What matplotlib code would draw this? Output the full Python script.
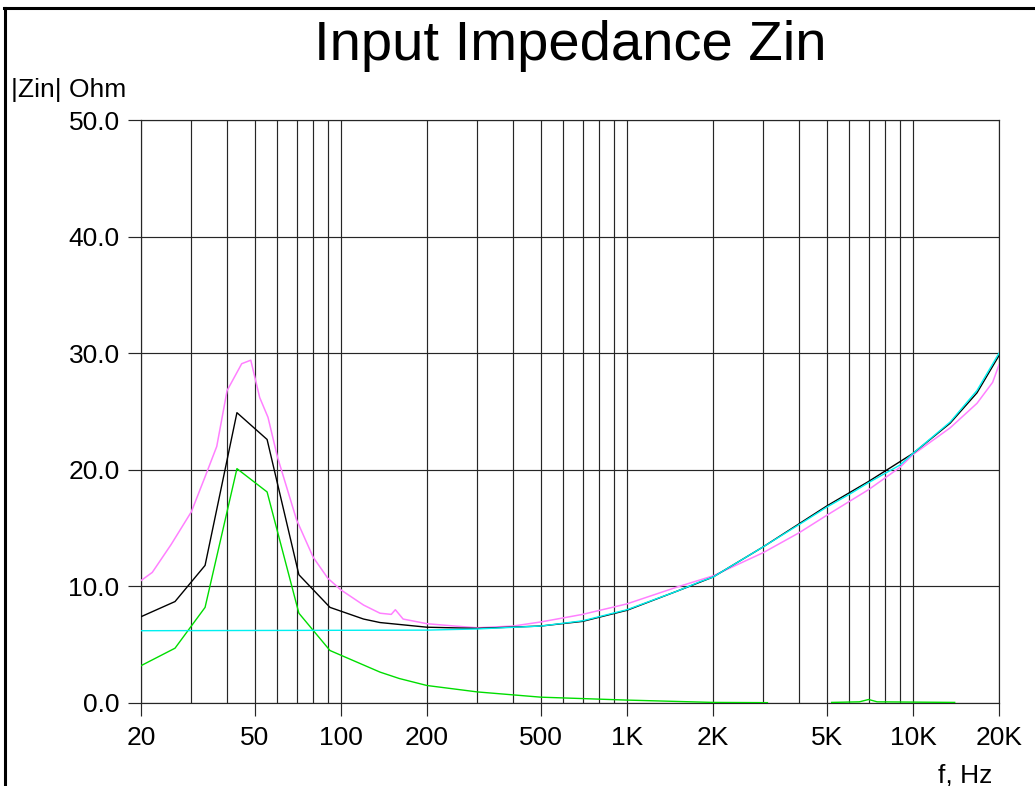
import matplotlib
matplotlib.use("Agg")
import matplotlib.pyplot as plt
import numpy as np
from matplotlib.ticker import FixedLocator, NullFormatter, NullLocator
from matplotlib.lines import Line2D

plt.rcParams['font.family'] = ['Liberation Sans', 'DejaVu Sans']

# ---- data ----
x_ticks = [20, 50, 100, 200, 500, 1000, 2000, 5000, 10000, 20000]
x_tick_labels = ["20", "50", "100", "200", "500", "1K", "2K", "5K", "10K", "20K"]
y_ticks = [0, 10, 20, 30, 40, 50]
y_tick_labels = ["0.0", "10.0", "20.0", "30.0", "40.0", "50.0"]

magenta_f = [20, 21.9, 25.5, 30, 33.5, 36.8, 40, 45, 48.4, 52, 55.6, 60, 70, 80, 90, 100,
             120, 137, 150, 155, 165, 200, 250, 300, 400, 500, 700, 1000, 1500, 2000,
             3000, 4000, 5000, 7000, 9000, 10000, 13500, 16750, 19000, 20000]
magenta_z = [10.5, 11.2, 13.6, 16.4, 19.4, 22.0, 26.8, 29.1, 29.4, 26.2, 24.5, 21.1, 15.7,
             12.5, 10.7, 9.7, 8.4, 7.7, 7.6, 8.0, 7.2, 6.8, 6.6, 6.45, 6.6, 6.95, 7.6, 8.5,
             9.95, 10.9, 12.9, 14.6, 16.1, 18.3, 20.2, 21.3, 23.6, 25.7, 27.5, 29.0]

black_f = [20, 26.3, 33.5, 43.3, 55.2, 71.3, 91.6, 120, 137, 200, 300, 500, 700, 1000,
           1500, 2000, 3000, 5000, 7000, 10000, 13500, 16750, 20000]
black_z = [7.4, 8.7, 11.8, 24.9, 22.6, 11.0, 8.2, 7.2, 6.9, 6.5, 6.4, 6.6, 7.0, 7.95,
           9.6, 10.8, 13.4, 16.9, 19.0, 21.4, 24.0, 26.6, 29.8]

cyan_f = [20, 200, 300, 500, 700, 1000, 1500, 1800, 2000, 3000, 4000, 5000, 6000, 7000,
          8000, 9000, 10000, 13500, 16750, 20000]
cyan_z = [6.2, 6.25, 6.35, 6.6, 7.05, 8.0, 9.6, 10.4, 10.8, 13.4, 15.3, 16.8, 17.9, 18.9,
          19.7, 20.4, 21.4, 24.1, 26.8, 30.0]

green_f = [20, 26.3, 33.5, 43.3, 55.2, 71.3, 91.6, 137, 160, 200, 300, 500, 1000, 2000,
           3100, 4000, 5200, 6500, 7000, 7500, 14000]
green_z = [3.2, 4.7, 8.2, 20.1, 18.1, 7.7, 4.5, 2.65, 2.1, 1.5, 0.95, 0.5, 0.25, 0.05,
           0.03, np.nan, 0.05, 0.1, 0.3, 0.1, 0.05]

# ---- figure ----
W, H = 1035, 786
fig = plt.figure(figsize=(W / 100, H / 100), dpi=100)
L, R, T, B = 141, 999, 120, 703
ax = fig.add_axes([L / W, 1 - B / H, (R - L) / W, (B - T) / H])

ax.set_xscale('log')
ax.set_xlim(20, 20000)
ax.set_ylim(0, 50)

gc = '#262626'
ax.grid(True, which='both', axis='x', color=gc, lw=0.85)
ax.grid(True, which='major', axis='y', color=gc, lw=0.85)

ax.plot(green_f, green_z, color='#00dd00', lw=1.0, zorder=3)
ax.plot(magenta_f, magenta_z, color='#ff80ff', lw=1.1, zorder=3)
ax.plot(black_f, black_z, color='black', lw=1.0, zorder=4)
ax.plot(cyan_f, cyan_z, color='#00f0f0', lw=1.0, zorder=5)

ax.xaxis.set_major_locator(FixedLocator(x_ticks))
ax.set_xticklabels(x_tick_labels)
ax.xaxis.set_minor_locator(FixedLocator(
    [m * d for d in (10, 100, 1000) for m in range(2, 10)] + [10000 * m for m in range(2, 10)]))
ax.xaxis.set_minor_formatter(NullFormatter())
ax.tick_params(axis='x', which='minor', length=0)
ax.set_yticks(y_ticks)
ax.set_yticklabels(y_tick_labels)
ax.tick_params(axis='both', which='major', direction='out', length=9.4, width=0.85,
               color=gc, labelsize=19, pad=6)
ax.tick_params(axis='x', which='major', pad=7)

for s in ax.spines.values():
    s.set_color(gc)
    s.set_linewidth(0.85)

fig.text(570 / W, 1 - 60 / H, "Input Impedance Zin", fontsize=40.5, ha='center',
         va='baseline')
fig.text(11 / W, 1 - 90 / H, "|Zin| Ohm", fontsize=19, ha='left', va='center')
fig.text(992 / W, 1 - 775 / H, "f, Hz", fontsize=19, ha='right', va='center')

# window frame (top and left edges)
fig.add_artist(Line2D([4 / W, 1.0], [1 - 8 / H, 1 - 8 / H], color='black', lw=2.2,
                      transform=fig.transFigure))
fig.add_artist(Line2D([5 / W, 5 / W], [0, 1 - 8 / H], color='black', lw=2.2,
                      transform=fig.transFigure))

fig.savefig("out.png", dpi=100)
